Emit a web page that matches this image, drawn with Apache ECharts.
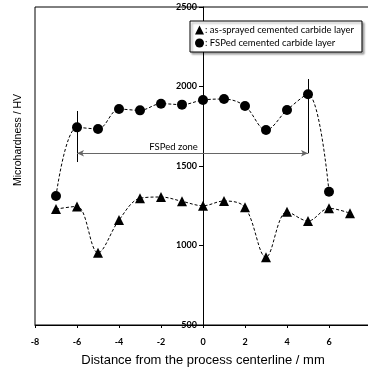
<!DOCTYPE html>
<html><head><meta charset="utf-8">
<script src="https://cdn.jsdelivr.net/npm/echarts@6/dist/echarts.min.js"></script>
<style>html,body{margin:0;padding:0;background:#fff}#c{width:368px;height:369px}</style>
</head><body><div id="c"></div>
<script>
const distAsSprayed = [-7,-6,-5,-4,-3,-2,-1,0,1,2,3,4,5,6,7];
const asSprayed = [1229,1246,954,1160,1297,1305,1278,1250,1280,1240,926,1212,1154,1234,1203];
const distFsped = [-7,-6,-5,-4,-3,-2,-1,0,1,2,3,4,5,6];
const fsped = [1311,1743,1733,1858,1850,1892,1886,1915,1921,1877,1726,1852,1951,1338];
const xRange = [-8, 8, 2];
const yRange = [500, 2500, 500];
const zoneMarkers = [[-6, 1846, 1525], [5, 2047, 1580]];
const zoneArrow = [-6, 5, 1580];
const zoneLabel = ['FSPed zone', -1.4, 1622];
const seriesNames = ['as-sprayed cemented carbide layer', 'FSPed cemented carbide layer'];

const chart = echarts.init(document.getElementById('c'));
const tickFont = {fontFamily:'Lato', fontWeight:'bold', fontSize:9, color:'#000'};
const dashed = {color:'#000', width:1, type:[3,2]};
chart.setOption({
  animation:false,
  grid:{left:35, top:7, right:-3, bottom:44, show:true, borderColor:'#000', borderWidth:1,
    containLabel:false, outerBoundsMode:'none'},
  xAxis:{type:'value', min:xRange[0], max:xRange[1], interval:xRange[2],
    axisLine:{onZero:false, lineStyle:{color:'#000'}},
    axisTick:{length:3, lineStyle:{color:'#000'}},
    axisLabel:Object.assign({margin:13, showMaxLabel:false, formatter: v => String(v)}, tickFont),
    splitLine:{show:false},
    name:'Distance from the process centerline / mm', nameLocation:'middle', nameGap:29,
    nameTextStyle:{fontFamily:'Liberation Sans', fontSize:13, color:'#000'}},
  yAxis:{type:'value', position:'left', min:yRange[0], max:yRange[1], interval:yRange[2],
    axisLine:{show:true, onZero:false, lineStyle:{color:'#000'}},
    axisTick:{show:true, length:4, lineStyle:{color:'#000'}},
    axisLabel:Object.assign({margin:6, formatter: v => String(v)}, tickFont),
    splitLine:{show:false}},
  legend:{orient:'vertical', left:190, top:21, itemWidth:9, itemHeight:9, itemGap:3,
    padding:[4,8,4,5], borderColor:'#000', borderWidth:1, backgroundColor:'#fff',
    shadowColor:'rgba(0,0,0,0.35)', shadowBlur:2, shadowOffsetX:2, shadowOffsetY:2,
    formatter: n => ': ' + n,
    textStyle:{fontFamily:'Lato', fontSize:9.5, color:'#000', padding:[0,0,0,-4]},
    data:[{name:seriesNames[0], icon:'triangle'},{name:seriesNames[1], icon:'circle'}]},
  graphic:[{type:'text', x:18, y:140, rotation:Math.PI/2,
    style:{text:'Microhardness / HV', fontFamily:'Liberation Sans', fontSize:10.5, fill:'#000', align:'center', verticalAlign:'middle'}}],
  series:[
    {name:seriesNames[0], type:'line', smooth:0.35, symbol:'triangle', symbolSize:10,
     itemStyle:{color:'#000'}, lineStyle:dashed,
     data: distAsSprayed.map((d,i)=>[d, asSprayed[i]])},
    {name:seriesNames[1], type:'line', smooth:0.35, symbol:'circle', symbolSize:10,
     itemStyle:{color:'#000'}, lineStyle:dashed,
     data: distFsped.map((d,i)=>[d, fsped[i]]),
     markLine:{silent:true, symbol:'none', label:{show:false},
       data:[
         ...zoneMarkers.map(m=>[{coord:[m[0], m[1]], lineStyle:{color:'#000', width:1, type:'solid'}},{coord:[m[0], m[2]]}]),
         [{coord:[zoneArrow[0], zoneArrow[2]], symbol:'arrow', symbolSize:[5,7], lineStyle:{color:'#666', width:1, type:'solid'}},
          {coord:[zoneArrow[1], zoneArrow[2]], symbol:'arrow', symbolSize:[5,7]}]
       ]},
     markPoint:{silent:true, symbol:'circle', symbolSize:0,
       label:{show:true, formatter:zoneLabel[0], fontFamily:'Lato', fontSize:9.5, color:'#000', position:'inside'},
       data:[{coord:[zoneLabel[1], zoneLabel[2]], value:0}]}}
  ]
});
// move the y axis onto x = 0, using the x axis scale
const zeroX = chart.convertToPixel({xAxisIndex:0}, 0);
const leftX = chart.convertToPixel({xAxisIndex:0}, xRange[0]);
chart.setOption({yAxis:{offset: -(zeroX - leftX)}});
</script></body></html>
